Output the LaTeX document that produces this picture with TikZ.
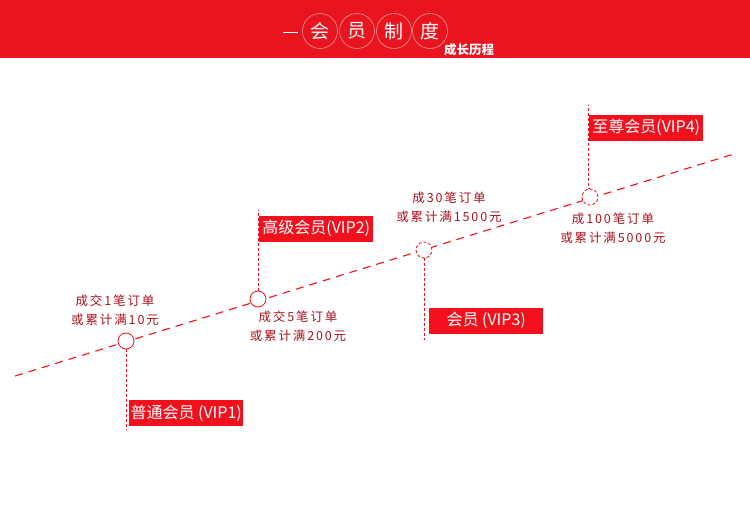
\documentclass[tikz,border=0pt]{standalone}
\usepackage{fontspec}
\setmainfont{Noto Sans CJK SC}
\usetikzlibrary{positioning}
\usepackage{xcolor}
\definecolor{vipred}{HTML}{F2101C}
\definecolor{band}{HTML}{E8141E}
\definecolor{cond}{HTML}{A8121A}

\begin{document}
\begin{tikzpicture}[x=1pt,y=-1pt,
  grade/.style={fill=vipred,text=white,font=\fontsize{16}{16}\selectfont,
    minimum width=114pt,minimum height=26pt,inner sep=0pt,anchor=west},
  stage/.style={circle,draw=vipred,fill=white,minimum size=16pt,inner sep=0pt,line width=0.8pt},
  rule/.style={text=cond,font=\fontsize{12.5}{19}\selectfont\addfontfeature{LetterSpace=15},align=center},
  seal/.style={circle,draw=white!55!band,text=white,minimum size=35pt,inner sep=0pt,
    line width=0.6pt,font=\fontsize{19}{19}\selectfont},
  track/.style={vipred,dashed,dash pattern=on 8pt off 6pt,line width=1.1pt},
  stem/.style={vipred,dash pattern=on 3pt off 2pt,line width=0.6pt},
]
  \useasboundingbox (0,0) rectangle (750,514);

  % Header band
  \fill[band] (0,0) rectangle (750,58);
  \coordinate (dashL) at (283,32);
  \coordinate (dashR) at (298,32);
  \draw[white,line width=0.8pt] (dashL) -- (dashR);
  \node[seal] (t1) at (320,31) {会};
  \node[seal] (t2) at (357,31) {员};
  \node[seal] (t3) at (394,31) {制};
  \node[seal] (t4) at (430,31) {度};
  \node[text=white,font=\fontsize{12.5}{12.5}\selectfont\bfseries] (sub) at (469,50) {成长历程};

  % Growth line
  \coordinate (start) at (15,376);
  \coordinate (stop) at (737,153);
  \draw[track] (start) -- (stop);

  \node[stage] (v1) at (126,341) {};
  \node[stage] (v2) at (258,299) {};
  \node[stage,dashed,dash pattern=on 3pt off 2pt] (v3) at (424,250) {};
  \node[stage,dashed,dash pattern=on 3pt off 2pt] (v4) at (590,197) {};

  % Stems
  \coordinate (e1) at (126,430);
  \coordinate (e2) at (258,210);
  \coordinate (e3) at (424,340);
  \coordinate (e4) at (588,105);
  \draw[stem] (v1.south) -- (e1);
  \draw[stem] (v2.north) -- (e2);
  \draw[stem] (v3.south) -- (e3);
  \draw[stem] (v4.north) -- (e4 |- v4.north) -- (e4);

  % Grades
  \node[grade] (g1) at (129,413) {普通会员 (VIP1)};
  \node[grade] (g2) at (259,228.5) {高级会员(VIP2)};
  \node[grade] (g3) at (429,320.5) {会员 (VIP3)};
  \node[grade] (g4) at (589,127.5) {至尊会员(VIP4)};

  % Conditions
  \node[rule] (c1) at (115,310.5) {成交1笔订单\\或累计满10元};
  \node[rule] (c2) at (298,326) {成交5笔订单\\或累计满200元};
  \node[rule] (c3) at (449,207.5) {成30笔订单\\或累计满1500元};
  \node[rule] (c4) at (613,228) {成100笔订单\\或累计满5000元};
\end{tikzpicture}
\end{document}
